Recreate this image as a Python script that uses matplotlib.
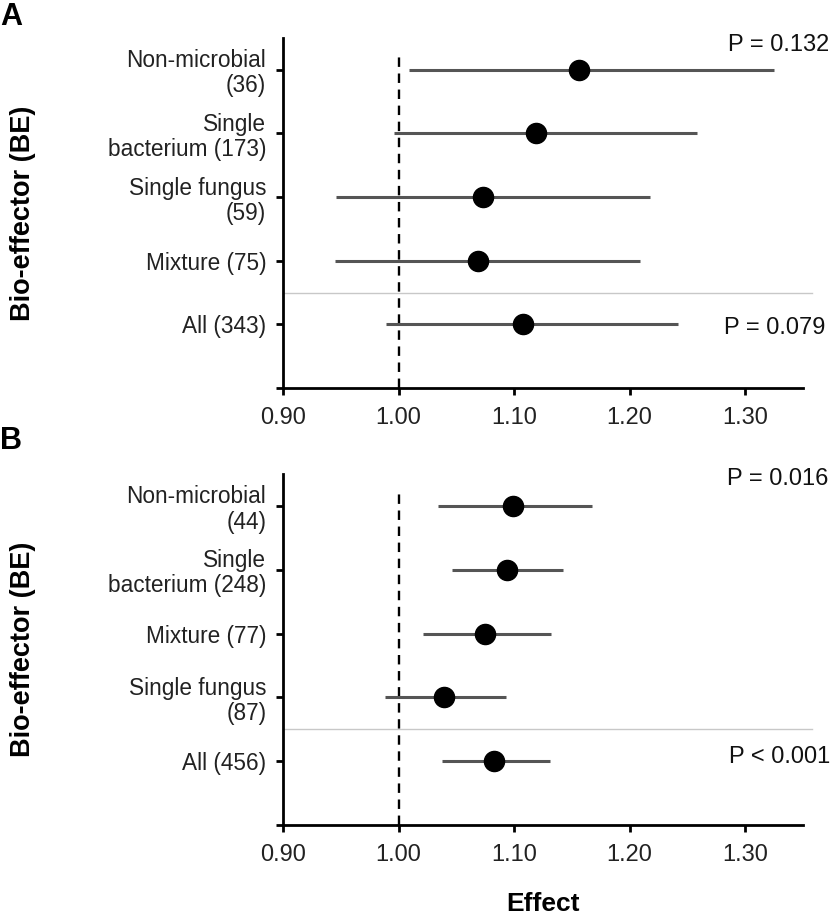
import numpy as np
import matplotlib
matplotlib.use("Agg")
import matplotlib.pyplot as plt

plt.rcParams['font.family'] = ['Liberation Sans', 'DejaVu Sans']

# panel A data
labels_a = ["Non-microbial\n(36)", "Single\nbacterium (173)", "Single fungus\n(59)", "Mixture (75)", "All (343)"]
effect_a = [1.156, 1.119, 1.073, 1.069, 1.108]
lo_a = [1.009, 0.996, 0.946, 0.945, 0.989]
hi_a = [1.325, 1.258, 1.218, 1.209, 1.242]
pvals_a = ["P = 0.132", "P = 0.079"]

# panel B data
labels_b = ["Non-microbial\n(44)", "Single\nbacterium (248)", "Mixture (77)", "Single fungus\n(87)", "All (456)"]
effect_b = [1.099, 1.094, 1.075, 1.039, 1.083]
lo_b = [1.034, 1.046, 1.021, 0.988, 1.038]
hi_b = [1.167, 1.142, 1.132, 1.093, 1.131]
pvals_b = ["P = 0.016", "P < 0.001"]

xticks = [0.90, 1.00, 1.10, 1.20, 1.30]

fig = plt.figure(figsize=(8.32, 9.15), dpi=100)
W, H = 832, 915


def forest(ax, labels, eff, lo, hi, pvals, p_pos):
    ypos = np.arange(len(labels), 0, -1)  # 5..1
    for y, e, l, h in zip(ypos, eff, lo, hi):
        ax.plot([l, h], [y, y], color='#555555', lw=2.2, solid_capstyle='butt', zorder=2)
        ax.plot(e, y, 'o', color='black', ms=14.5, zorder=3)
    ax.plot([1.0, 1.0], [0, 5.25], color='black', lw=1.7, ls=(0, (4, 2.8)), zorder=1)
    # separator before the pooled row
    ax.plot([0.9, 1.358], [1.5, 1.5], color='#c8c8c8', lw=1, clip_on=False, zorder=1)
    ax.set_xlim(0.9, 1.35)
    ax.set_ylim(0, 5.5)
    ax.set_yticks(list(ypos) + [0])
    ax.set_yticklabels(labels + [""], ha='right', fontsize=16.3, color='#222222', linespacing=1.12)
    ax.set_xticks(xticks)
    ax.set_xticklabels([f"{t:.2f}" for t in xticks], fontsize=17, color='#222222')
    for s in ['top', 'right']:
        ax.spines[s].set_visible(False)
    for s in ['left', 'bottom']:
        ax.spines[s].set_linewidth(2)
    ax.tick_params(width=2, length=5)
    ax.tick_params(axis='x', pad=9)
    ax.tick_params(axis='y', pad=7)
    for txt, (x, y) in zip(pvals, p_pos):
        ax.text(x, y, txt, fontsize=17, color='#111111', va='center', ha='left', clip_on=False)
    ax.set_ylabel("Bio-effector (BE)", fontsize=19.5, fontweight='bold')
    ax.yaxis.set_label_coords(-247 / 520, 0.5)


ax_a = fig.add_axes([283 / W, 1 - 388 / H, 520 / W, 350 / H])
forest(ax_a, labels_a, effect_a, lo_a, hi_a, pvals_a, [(1.285, 5.39), (1.282, 0.94)])

ax_b = fig.add_axes([283 / W, 1 - 825 / H, 520 / W, 351 / H])
forest(ax_b, labels_b, effect_b, lo_b, hi_b, pvals_b, [(1.284, 5.42), (1.286, 1.06)])

fig.text(ax_b.get_position().x0 + ax_b.get_position().width / 2, 1 - 904 / H, "Effect",
         fontsize=19, fontweight='bold', va='center', ha='center')

fig.text(0 / W, 1 - 17 / H, "A", fontsize=22, fontweight='bold', va='center', ha='left')
fig.text(0 / W, 1 - 441 / H, "B", fontsize=22, fontweight='bold', va='center', ha='left')

fig.savefig("out.png", dpi=100)
